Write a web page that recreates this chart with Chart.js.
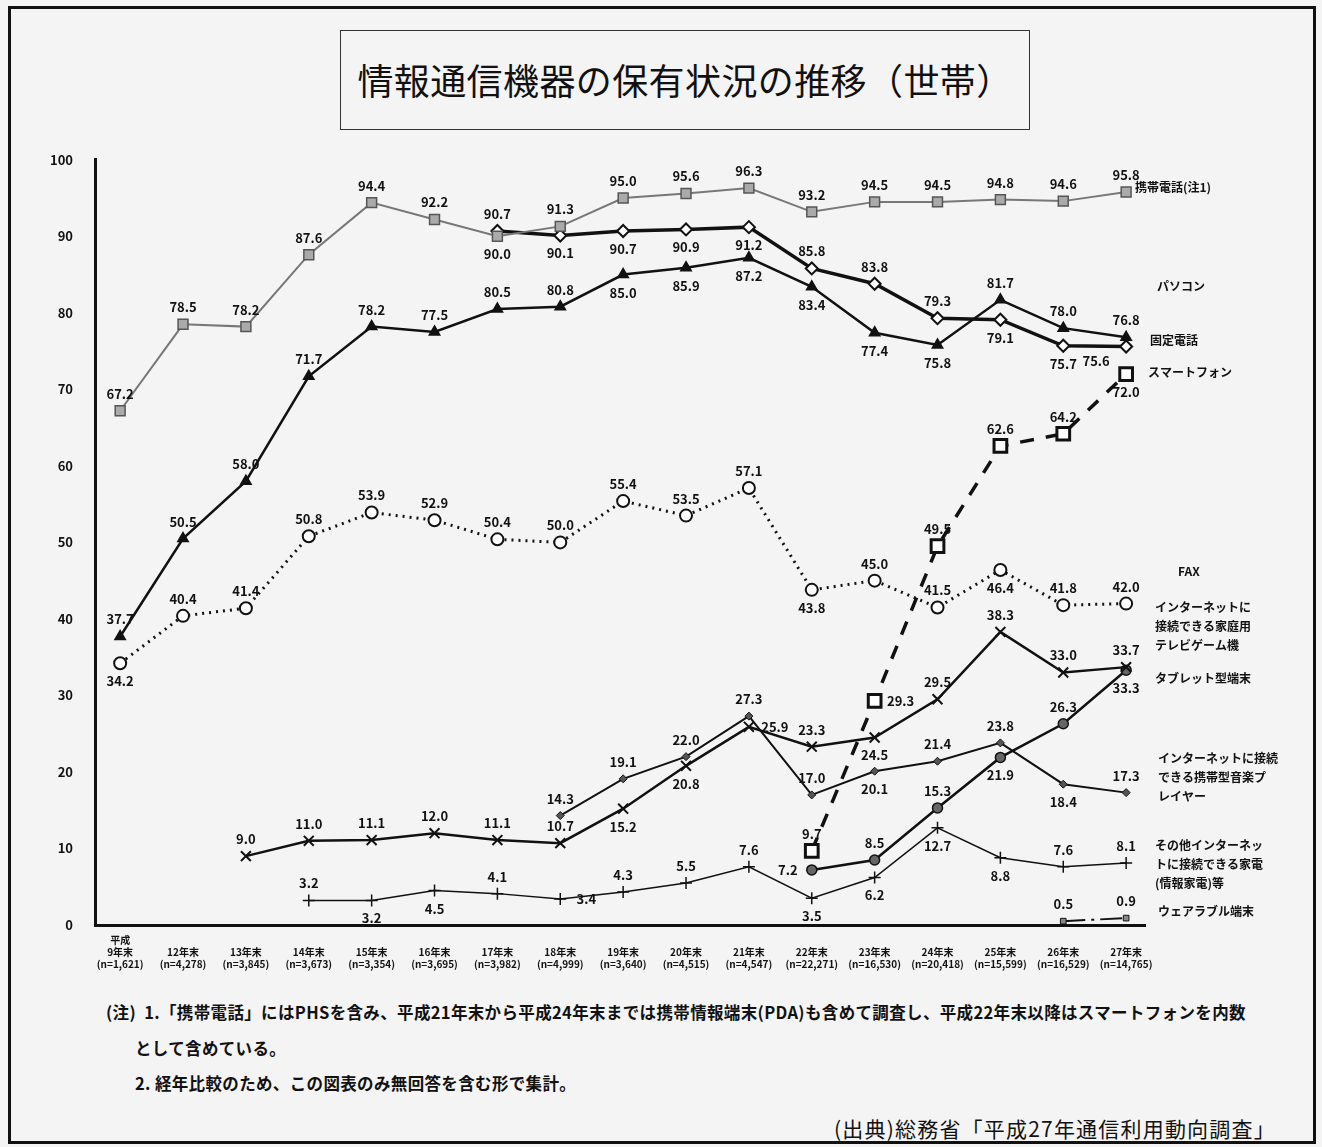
<!DOCTYPE html>
<html lang="ja">
<head>
<meta charset="utf-8">
<title>情報通信機器の保有状況の推移（世帯）</title>
<script src="https://cdn.jsdelivr.net/npm/chart.js@4.4.1/dist/chart.umd.min.js"></script>
<style>
  html, body { margin: 0; padding: 0; background: #f4f4f4; }
  body { width: 1322px; height: 1147px; position: relative; overflow: hidden;
         font-family: "Noto Sans CJK JP", "Noto Sans", sans-serif; color: #111; }
  #frame { position: absolute; left: 8px; top: 6px; width: 1308px; height: 1138px;
           border: 3px solid #111; box-sizing: border-box; }
  #title { position: absolute; left: 340px; top: 30px; width: 690px; height: 100px;
           border: 1.5px solid #333; box-sizing: border-box; text-align: center;
           font-size: 36px; line-height: 96px; letter-spacing: 0.4px; }
  #wrap { position: absolute; left: 0; top: 130px; width: 1322px; height: 853px; }
  .note { position: absolute; font-size: 16.5px; font-weight: bold; white-space: nowrap; letter-spacing: 0.35px; }
</style>
</head>
<body>
<div id="frame"></div>
<div id="title">情報通信機器の保有状況の推移（世帯）</div>
<div id="wrap"><canvas id="chartHoyu" width="1322" height="853"></canvas></div>
<div class="note" style="left:106px; top:1000px;">(注)&nbsp;&nbsp;1.「携帯電話」にはPHSを含み、平成21年末から平成24年末までは携帯情報端末(PDA)も含めて調査し、平成22年末以降はスマートフォンを内数</div>
<div class="note" style="left:135px; top:1036px;">として含めている。</div>
<div class="note" style="left:135px; top:1071px;">2. 経年比較のため、この図表のみ無回答を含む形で集計。</div>
<div class="note" style="left:834px; top:1113px; font-weight:normal; font-size:21px; letter-spacing:1.2px;">(出典)総務省「平成27年通信利用動向調査」</div>

<script>
// 情報通信機器の保有状況の推移（世帯） - 値は図から読み取り

const categories = ['9年末', '12年末', '13年末', '14年末', '15年末', '16年末', '17年末', '18年末', '19年末',
  '20年末', '21年末', '22年末', '23年末', '24年末', '25年末', '26年末', '27年末'];
const sampleSizes = ['1,621', '4,278', '3,845', '3,673', '3,354', '3,695', '3,982', '4,999', '3,640',
  '4,515', '4,547', '22,271', '16,530', '20,418', '15,599', '16,529', '14,765'];

const keitai     = [67.2, 78.5, 78.2, 87.6, 94.4, 92.2, 90.0, 91.3, 95.0, 95.6, 96.3, 93.2, 94.5, 94.5, 94.8, 94.6, 95.8];
const pasokon    = [37.7, 50.5, 58.0, 71.7, 78.2, 77.5, 80.5, 80.8, 85.0, 85.9, 87.2, 83.4, 77.4, 75.8, 81.7, 78.0, 76.8];
const koteiDenwa = [null, null, null, null, null, null, 90.7, 90.1, 90.7, 90.9, 91.2, 85.8, 83.8, 79.3, 79.1, 75.7, 75.6];
const smartphone = [null, null, null, null, null, null, null, null, null, null, null, 9.7, 29.3, 49.5, 62.6, 64.2, 72.0];
const fax        = [34.2, 40.4, 41.4, 50.8, 53.9, 52.9, 50.4, 50.0, 55.4, 53.5, 57.1, 43.8, 45.0, 41.5, 46.4, 41.8, 42.0];
const gameKi     = [null, null, 9.0, 11.0, 11.1, 12.0, 11.1, 10.7, 15.2, 20.8, 25.9, 23.3, 24.5, 29.5, 38.3, 33.0, 33.7];
const tablet     = [null, null, null, null, null, null, null, null, null, null, null, 7.2, 8.5, 15.3, 21.9, 26.3, 33.3];
const ongaku     = [null, null, null, null, null, null, null, 14.3, 19.1, 22.0, 27.3, 17.0, 20.1, 21.4, 23.8, 18.4, 17.3];
const sonota     = [null, null, null, 3.2, 3.2, 4.5, 4.1, 3.4, 4.3, 5.5, 7.6, 3.5, 6.2, 12.7, 8.8, 7.6, 8.1];
const wearable   = [null, null, null, null, null, null, null, null, null, null, null, null, null, null, null, 0.5, 0.9];

const yTicks = [0, 10, 20, 30, 40, 50, 60, 70, 80, 90, 100];

function toPoints(arr) {
  return arr.map((v, i) => ({ x: i, y: v }));
}

// 値ラベル: a=上, b=下, l=左, r=右, L=左下
const valueLabelPlugin = {
  id: 'valueLabels',
  afterDatasetsDraw(chart) {
    const ctx = chart.ctx;
    ctx.save();
    ctx.fillStyle = '#111';
    ctx.font = 'bold 13px "Noto Sans CJK JP", sans-serif';
    ctx.textAlign = 'center';
    ctx.textBaseline = 'middle';
    chart.data.datasets.forEach((ds, di) => {
      const meta = chart.getDatasetMeta(di);
      meta.data.forEach((pt, i) => {
        const v = ds.data[i].y;
        if (v === null || v === undefined) return;
        const pos = (ds.labelPos || '')[i] || 'a';
        let x = pt.x, y = pt.y;
        if (pos === 'a') y -= 17;
        else if (pos === 'b') y += 18;
        else if (pos === 'l') x -= 24;
        else if (pos === 'r') x += 26;
        else if (pos === 'L') { x -= 30; y += 15; }
        ctx.fillText(v.toFixed(1), x, y);
      });
    });
    ctx.restore();
  }
};

// 系列名（右側）
const seriesNamePlugin = {
  id: 'seriesNames',
  afterDraw(chart) {
    const ctx = chart.ctx;
    const yScale = chart.scales.y;
    ctx.save();
    ctx.fillStyle = '#111';
    ctx.font = 'bold 12px "Noto Sans CJK JP", sans-serif';
    ctx.textAlign = 'left';
    ctx.textBaseline = 'middle';
    chart.data.datasets.forEach(ds => {
      if (!ds.nameLines) return;
      const y0 = yScale.getPixelForValue(ds.nameAt);
      ds.nameLines.forEach((line, k) => {
        ctx.fillText(line, chart.chartArea.right + ds.nameDx, y0 + k * 19);
      });
    });
    ctx.restore();
  }
};

document.addEventListener('DOMContentLoaded', function() {
  const el = document.getElementById('chartHoyu');
  if (!el) {
    console.warn('canvas chartHoyu não encontrado');
    return;
  }
  new Chart(el, {
    type: 'line',
    data: {
      datasets: [
        { label: '携帯電話(注1)', data: toPoints(keitai), borderColor: '#777', borderWidth: 2,
          pointStyle: 'rect', pointRadius: 7, pointBackgroundColor: '#aaa', pointBorderColor: '#555', pointBorderWidth: 1.5,
          labelPos: 'aaaaaabaaaaaaaaaa', nameLines: ['携帯電話(注1)'], nameAt: 96.4, nameDx: -10 },
        { label: '固定電話', data: toPoints(koteiDenwa), borderColor: '#111', borderWidth: 3.5,
          pointStyle: 'rectRot', pointRadius: 6, pointBackgroundColor: '#fff', pointBorderColor: '#111', pointBorderWidth: 2,
          labelPos: 'aaaaaaabbbbaaabbL', nameLines: ['固定電話'], nameAt: 76.4, nameDx: 5 },
        { label: 'パソコン', data: toPoints(pasokon), borderColor: '#111', borderWidth: 2.5,
          pointStyle: 'triangle', pointRadius: 5, pointBackgroundColor: '#111', pointBorderColor: '#111',
          labelPos: 'aaaaaaaabbbbbbaaa', nameLines: ['パソコン'], nameAt: 83.4, nameDx: 12 },
        { label: 'スマートフォン', data: toPoints(smartphone), borderColor: '#111', borderWidth: 3.5, borderDash: [14, 12],
          pointStyle: 'rect', pointRadius: 9, pointBackgroundColor: '#fff', pointBorderColor: '#111', pointBorderWidth: 3,
          labelPos: 'aaaaaaaaaaaaraaab', nameLines: ['スマートフォン'], nameAt: 72.2, nameDx: 3 },
        { label: 'FAX', data: toPoints(fax), borderColor: '#111', borderWidth: 3, borderDash: [2, 5],
          pointStyle: 'circle', pointRadius: 6, pointBackgroundColor: '#fff', pointBorderColor: '#111', pointBorderWidth: 2,
          labelPos: 'baaaaaaaaaabaabaa', nameLines: ['FAX'], nameAt: 46.2, nameDx: 33 },
        { label: 'インターネットに接続できる家庭用テレビゲーム機', data: toPoints(gameKi), borderColor: '#111', borderWidth: 2.5,
          pointStyle: 'crossRot', pointRadius: 7, pointBorderColor: '#111', pointBorderWidth: 2,
          labelPos: 'aaaaaaaabbrabaaaa', nameLines: ['インターネットに', '接続できる家庭用', 'テレビゲーム機'], nameAt: 41.5, nameDx: 10 },
        { label: 'タブレット型端末', data: toPoints(tablet), borderColor: '#111', borderWidth: 2.5,
          pointStyle: 'circle', pointRadius: 5, pointBackgroundColor: '#666', pointBorderColor: '#111', pointBorderWidth: 1.5,
          labelPos: 'aaaaaaaaaaalaabab', nameLines: ['タブレット型端末'], nameAt: 32.2, nameDx: 10 },
        { label: 'インターネットに接続できる携帯型音楽プレイヤー', data: toPoints(ongaku), borderColor: '#111', borderWidth: 2,
          pointStyle: 'rectRot', pointRadius: 4, pointBackgroundColor: '#555', pointBorderColor: '#111', pointBorderWidth: 1,
          labelPos: 'aaaaaaaaaaaabaaba', nameLines: ['インターネットに接続', 'できる携帯型音楽プ', 'レイヤー'], nameAt: 21.8, nameDx: 13 },
        { label: 'その他インターネットに接続できる家電（情報家電）等', data: toPoints(sonota), borderColor: '#111', borderWidth: 1.5,
          pointStyle: 'cross', pointRadius: 6, pointBorderColor: '#111', pointBorderWidth: 1.5,
          labelPos: 'aaaabbaraaabbbbaa', nameLines: ['その他インターネッ', 'トに接続できる家電', '(情報家電)等'], nameAt: 10.4, nameDx: 10 },
        { label: 'ウェアラブル端末', data: toPoints(wearable), borderColor: '#111', borderWidth: 2, borderDash: [22, 6, 3, 6],
          pointStyle: 'rect', pointRadius: 4, pointBackgroundColor: '#888', pointBorderColor: '#111', pointBorderWidth: 1,
          labelPos: 'aaaaaaaaaaaaaaaaa', nameLines: ['ウェアラブル端末'], nameAt: 1.8, nameDx: 13 }
      ]
    },
    options: {
      responsive: false,
      animation: false,
      spanGaps: false,
      layout: { padding: { top: 14, right: 177, bottom: 4, left: 10 } },
      plugins: { legend: { display: false }, tooltip: { enabled: false } },
      scales: {
        x: {
          type: 'linear', min: -0.4, max: 16.3,
          grid: { display: false, drawTicks: false },
          border: { display: true, color: '#111', width: 3 },
          afterBuildTicks: axis => { axis.ticks = categories.map((c, i) => ({ value: i })); },
          ticks: {
            autoSkip: false, maxRotation: 0, padding: 9, color: '#111',
            font: { size: 10, weight: 'bold', family: '"Noto Sans CJK JP", sans-serif' },
            callback: (v) => [v === 0 ? '平成' : '', categories[v], '(n=' + sampleSizes[v] + ')']
          }
        },
        y: {
          min: 0, max: 100,
          grid: { display: false, drawTicks: false },
          border: { display: true, color: '#111', width: 3 },
          afterBuildTicks: axis => { axis.ticks = yTicks.map(v => ({ value: v })); },
          afterFit: scale => { scale.width = 85; },
          ticks: { padding: 22, color: '#111',
            font: { size: 13, weight: 'bold', family: '"Noto Sans CJK JP", sans-serif' } }
        }
      }
    },
    plugins: [valueLabelPlugin, seriesNamePlugin]
  });
  console.log('chart ok');
});
</script>
</body>
</html>
